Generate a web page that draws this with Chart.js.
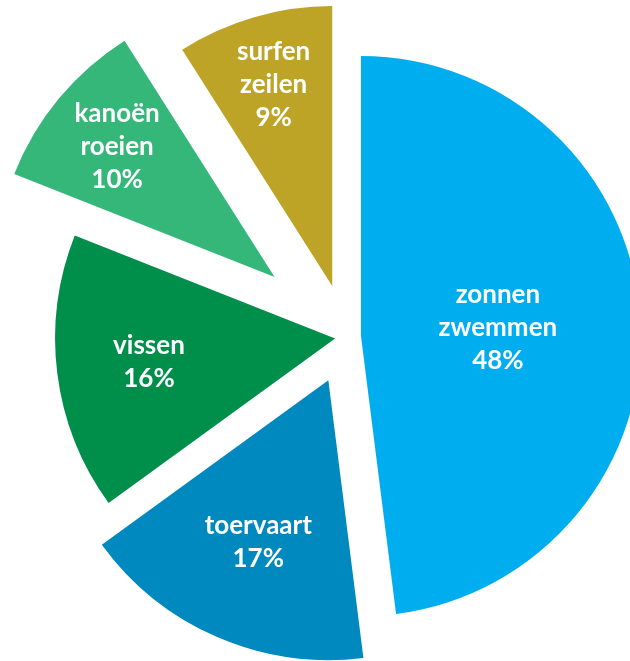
<!DOCTYPE html>
<html>
<head>
<meta charset="utf-8">
<script src="https://cdn.jsdelivr.net/npm/chart.js@4/dist/chart.umd.min.js"></script>
<style>
  html, body { margin: 0; padding: 0; background: #fff; }
  #wrap { width: 630px; height: 661px; }
</style>
</head>
<body>
<div id="wrap"><canvas id="pie" width="630" height="661"></canvas></div>
<script>
const categories = [
  ["zonnen", "zwemmen"],
  ["toervaart"],
  ["vissen"],
  ["kanoën", "roeien"],
  ["surfen", "zeilen"],
];
const shares = [48, 17, 16, 10, 9];
const sliceColors = ["#00aeef", "#0089bf", "#008e4b", "#35b77a", "#bea426"];

// pull-out of each slice (px) and where its label sits (part of radius)
const explode = [14, 47, 12, 94, 53];
const labelDepth = [0.49, 0.63, 0.67, 0.73, 0.75];

// chart.js offset also grows the radius of thin slices, so move them ourselves
const explodeSlices = {
  id: "explodeSlices",
  afterDatasetsUpdate(chart) {
    const meta = chart.getDatasetMeta(0);
    meta.data.forEach((arc, i) => {
      const mid = (arc.startAngle + arc.endAngle) / 2;
      arc.x += Math.cos(mid) * explode[i];
      arc.y += Math.sin(mid) * explode[i];
    });
  },
};

const sliceLabels = {
  id: "sliceLabels",
  afterDatasetsDraw(chart) {
    const ctx = chart.ctx;
    const meta = chart.getDatasetMeta(0);
    ctx.save();
    ctx.fillStyle = "#fff";
    ctx.textAlign = "center";
    ctx.textBaseline = "middle";
    ctx.font = "bold 26px Lato";
    const lineH = 33;
    meta.data.forEach((arc, i) => {
      const mid = (arc.startAngle + arc.endAngle) / 2;
      const dist = labelDepth[i] * arc.outerRadius;
      const cx = arc.x + Math.cos(mid) * dist;
      const cy = arc.y + Math.sin(mid) * dist;
      const lines = categories[i].concat([shares[i] + "%"]);
      const top = cy - ((lines.length - 1) * lineH) / 2;
      lines.forEach((t, j) => ctx.fillText(t, cx, top + j * lineH));
    });
    ctx.restore();
  },
};

const ctx = document.getElementById("pie").getContext("2d");

const chart = new Chart(ctx, {
  type: "pie",
  data: {
    labels: categories.map((c) => c.join(" ")),
    datasets: [
      {
        data: shares,
        backgroundColor: sliceColors,
        borderWidth: 0,
        clip: false,
      },
    ],
  },
  options: {
    responsive: false,
    animation: false,
    radius: 280,
    layout: {
      padding: { left: 64, right: 0, top: 13, bottom: 0 },
    },
    plugins: {
      legend: { display: false },
      tooltip: { enabled: false },
    },
  },
  plugins: [explodeSlices, sliceLabels],
});
</script>
</body>
</html>
